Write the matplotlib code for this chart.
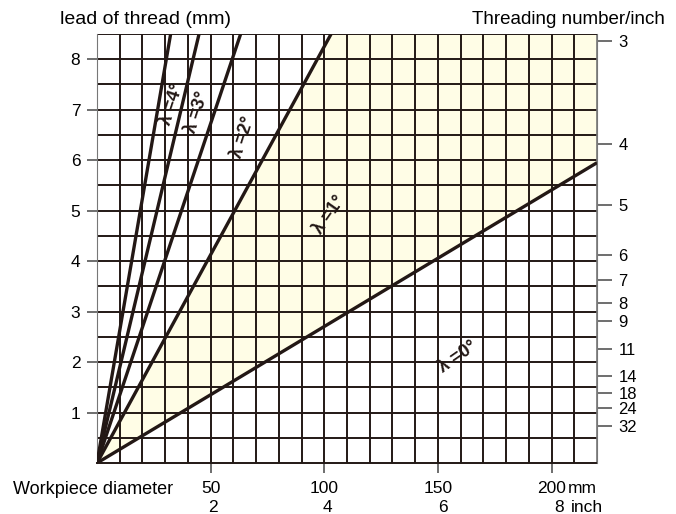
import matplotlib
matplotlib.use('Agg')
from matplotlib import pyplot as plt

plt.rcParams['font.family'] = ['Liberation Sans', 'DejaVu Sans']

# lines through the origin: (angle label, diameter at end, lead at end)
angles = ['0', '1', '2', '3', '4']
end_diameter = [220, 103, 63.2, 44.9, 32.4]
end_lead = [5.95, 8.5, 8.5, 8.5, 8.5]

# label positions (diameter, lead, rotation)
label_x = [159, 102.5, 64.5, 44, 33]
label_y = [2.1, 4.92, 6.45, 6.95, 7.1]
label_rot = [35, 55, 72, 72, 72]

mm_ticks = [50, 100, 150, 200]
inch_ticks = [2, 4, 6, 8]
lead_ticks = [1, 2, 3, 4, 5, 6, 7, 8]
threads_per_inch = [3, 4, 5, 6, 7, 8, 9, 11, 14, 18, 24, 32]
# lead where each thread count tick sits on the right scale
thread_tick_lead = [8.36, 6.33, 5.12, 4.13, 3.62, 3.17, 2.82, 2.26, 1.73, 1.39, 1.09, 0.73]

dark = '#231815'

fig = plt.figure(figsize=(6.76, 5.14), dpi=100)
ax = fig.add_axes([97/676, 1-463/514, 500/676, 429/514])
ax.set_xlim(0, 220)
ax.set_ylim(0, 8.5)

# shaded zone between the 0 and 1 degree lines
ax.fill([0, end_diameter[1], 220, 220], [0, 8.5, 8.5, end_lead[0]],
        color='#fffde6', zorder=0, lw=0)

# grid every 10 mm / 0.5 mm
for gx in range(10, 220, 10):
    ax.axvline(gx, color=dark, lw=1.4, zorder=1)
for gy in [i * 0.5 for i in range(1, 17)]:
    ax.axhline(gy, color=dark, lw=1.4, zorder=1)
ax.axvline(220, color='#777777', lw=1.2, zorder=1)
ax.axhline(8.5, color=dark, lw=1.4, zorder=1)

for d, l in zip(end_diameter, end_lead):
    ax.plot([0, d], [0, l], color=dark, lw=2.4, zorder=3, solid_capstyle='butt')

for a, x, y, r in zip(angles, label_x, label_y, label_rot):
    ax.text(x, y, 'λ =' + a + '°', rotation=r, ha='center', va='center',
            fontsize=13, fontweight='bold', color=dark, zorder=4)

for s in ['top', 'right']:
    ax.spines[s].set_visible(False)
ax.spines['left'].set_color('#777777')
ax.spines['bottom'].set_color(dark)
ax.spines['bottom'].set_linewidth(1.4)

ax.set_xticks(mm_ticks)
ax.set_xticklabels([])
ax.tick_params(axis='x', length=7, width=1.2, color='#555555')
ax.set_yticks(lead_ticks)
ax.tick_params(axis='y', length=7, width=1.2, color='#555555', labelsize=12.5, pad=5)

for m in mm_ticks:
    ax.text(m, -0.5, str(m), ha='center', va='center', fontsize=12.5)
for i in inch_ticks:
    ax.text(i * 25.4, -0.89, str(i), ha='center', va='center', fontsize=12.5)
ax.text(207.2, -0.5, 'mm', ha='left', va='center', fontsize=12.5)
ax.text(208.3, -0.89, 'inch', ha='left', va='center', fontsize=12.5)

ax2 = ax.twinx()
ax2.set_ylim(0, 8.5)
ax2.set_yticks(thread_tick_lead)
ax2.set_yticklabels([str(n) for n in threads_per_inch])
ax2.tick_params(axis='y', length=10.5, width=1.2, color='#555555', labelsize=12, pad=5)
for s in ['top', 'left', 'bottom']:
    ax2.spines[s].set_visible(False)
ax2.spines['right'].set_color('#777777')

fig.text(60/676, 1-20/514, 'lead of thread (mm)', ha='left', va='center', fontsize=14)
fig.text(665/676, 1-20/514, 'Threading number/inch', ha='right', va='center', fontsize=13.5)
fig.text(13/676, 1-489/514, 'Workpiece diameter', ha='left', va='center', fontsize=13)

fig.savefig('out.png', dpi=100)
